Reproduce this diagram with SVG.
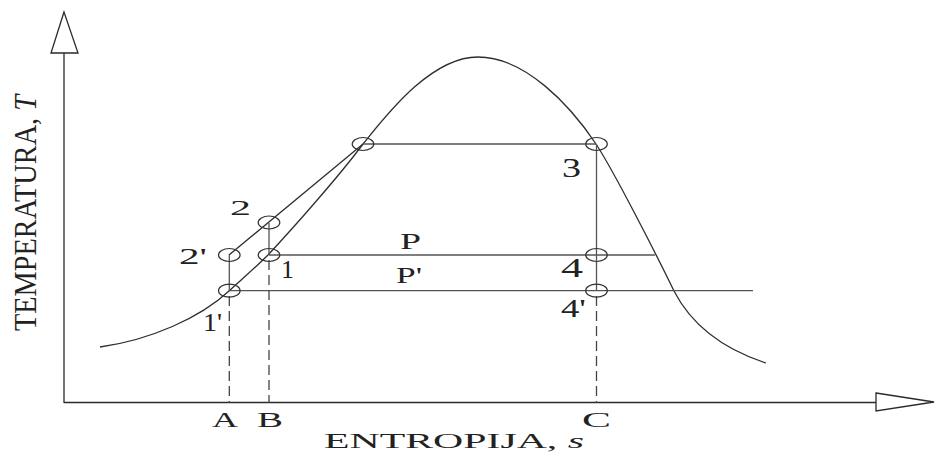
<svg xmlns="http://www.w3.org/2000/svg" width="936" height="457" viewBox="0 0 936 457">
<style>
.ax{stroke:#2a2a2a;stroke-width:1.3;fill:none}
.ar{stroke:#2a2a2a;stroke-width:1.3;fill:#fff;stroke-linejoin:miter}
.cv{stroke:#2e2e2e;stroke-width:1.3;fill:none}
.ln{stroke:#555;stroke-width:1.3;fill:none}
.ds{stroke:#444;stroke-width:1.3;fill:none;stroke-dasharray:10,5}
.pt{stroke:#333;stroke-width:1.2;fill:none}
.lb{font-family:"Liberation Serif","Times New Roman",serif;fill:#222}
</style>
<rect width="936" height="457" fill="#fff"/>
<g id="axes">
<line class="ax" x1="64" y1="53" x2="64" y2="403"/>
<line class="ax" x1="64" y1="402.5" x2="876" y2="402.5"/>
<polygon class="ar" points="64,12 51,53 78,53"/>
<polygon class="ar" points="876,393 934,402 876,411"/>
</g>
<g id="connectors">
<path id="saturation-curve" class="cv" d="M100,347 C150,340 200,318 229,291 C242,279 255,268 268,255 C295,226 340,175 363,144 C385,117 430,57 478,57 C525,57 570,105 596,144 C615,173 660,262 674,291 C690,322 720,348 766,363"/>
<line class="cv" x1="229" y1="255" x2="363" y2="144"/>
<line class="ln" x1="363" y1="144" x2="596" y2="144"/>
<line class="ln" x1="269" y1="255" x2="655" y2="255"/>
<line class="ln" x1="229" y1="290.7" x2="753" y2="290.7"/>
<line class="ln" x1="596.5" y1="144" x2="596.5" y2="291"/>
<line class="ln" x1="229.3" y1="255" x2="229.3" y2="291"/>
<line class="ln" x1="269" y1="223" x2="269" y2="255"/>
<line class="ds" x1="596.5" y1="296" x2="596.5" y2="403"/>
<line class="ds" x1="229.3" y1="296" x2="229.3" y2="403"/>
<line class="ds" x1="269" y1="260" x2="269" y2="403"/>
</g>
<g id="point-2prime"><ellipse class="pt" cx="229.3" cy="255" rx="10.8" ry="6.5"/><text class="lb" x="179" y="264" font-size="24" textLength="28" lengthAdjust="spacingAndGlyphs">2'</text></g>
<g id="point-2"><ellipse class="pt" cx="269" cy="222.5" rx="10.8" ry="6.5"/><text class="lb" x="230" y="215" font-size="21" textLength="21" lengthAdjust="spacingAndGlyphs">2</text></g>
<g id="point-1"><ellipse class="pt" cx="269" cy="255" rx="10.8" ry="6.5"/><text class="lb" x="281" y="278" font-size="25" textLength="13" lengthAdjust="spacingAndGlyphs">1</text></g>
<g id="point-1prime"><ellipse class="pt" cx="229.3" cy="290.7" rx="10.8" ry="6.5"/><text class="lb" x="203" y="331" font-size="25" textLength="19" lengthAdjust="spacingAndGlyphs">1'</text></g>
<g id="point-top"><ellipse class="pt" cx="363" cy="144" rx="10.8" ry="6.5"/></g>
<g id="point-3"><ellipse class="pt" cx="596.5" cy="144" rx="10.8" ry="6.5"/><text class="lb" x="562" y="177" font-size="27" textLength="19" lengthAdjust="spacingAndGlyphs">3</text></g>
<g id="point-4"><ellipse class="pt" cx="596.5" cy="255" rx="10.8" ry="6.5"/><text class="lb" x="561" y="277" font-size="27" textLength="22" lengthAdjust="spacingAndGlyphs">4</text></g>
<g id="point-4prime"><ellipse class="pt" cx="596.5" cy="290.7" rx="10.8" ry="6.5"/><text class="lb" x="561" y="317" font-size="25" textLength="25" lengthAdjust="spacingAndGlyphs">4'</text></g>
<g id="labels">
<text class="lb" x="400" y="249" font-size="24" textLength="21" lengthAdjust="spacingAndGlyphs">P</text>
<text class="lb" x="396" y="283" font-size="24" textLength="26" lengthAdjust="spacingAndGlyphs">P'</text>
<text class="lb" x="212" y="427" font-size="21" textLength="26" lengthAdjust="spacingAndGlyphs">A</text>
<text class="lb" x="257" y="427" font-size="21" textLength="26" lengthAdjust="spacingAndGlyphs">B</text>
<text class="lb" x="582" y="427" font-size="21" textLength="29" lengthAdjust="spacingAndGlyphs">C</text>
<text class="lb" x="324" y="448" font-size="20" textLength="260" lengthAdjust="spacingAndGlyphs">ENTROPIJA, <tspan font-style="italic">s</tspan></text>
<text class="lb" transform="translate(36,331) rotate(-90)" font-size="32" textLength="236" lengthAdjust="spacingAndGlyphs">TEMPERATURA, <tspan font-style="italic">T</tspan></text>
</g>
</svg>
